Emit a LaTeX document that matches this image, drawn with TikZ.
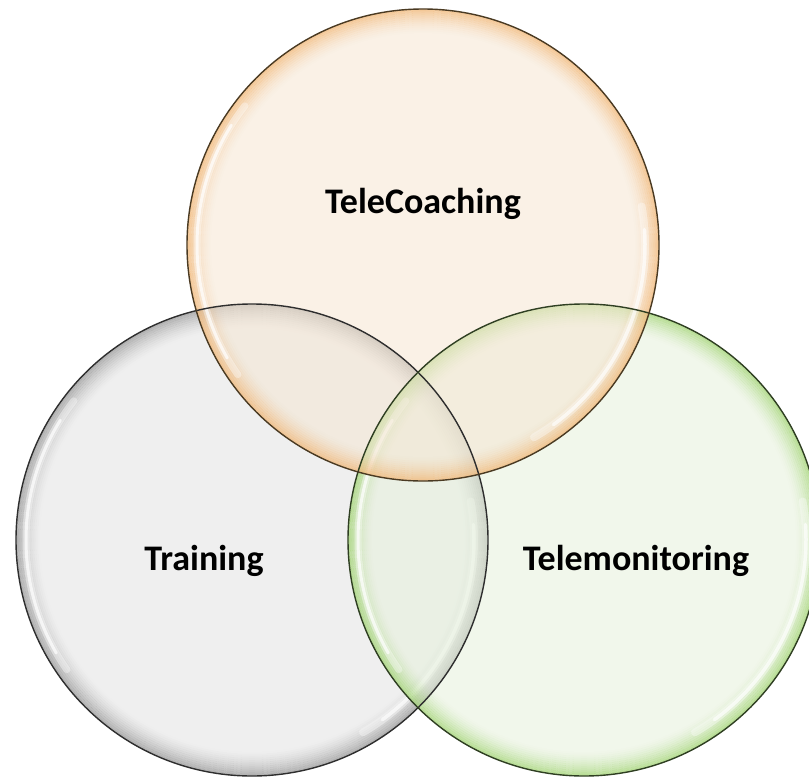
\documentclass[tikz,border=0pt]{standalone}
\usepackage{fontspec}
\setmainfont{Carlito}

\definecolor{orangebase}{HTML}{F6E6D2}
\definecolor{orangerim}{HTML}{EFA452}
\definecolor{orangeline}{HTML}{4A3A22}
\definecolor{graybase}{HTML}{E2E2E2}
\definecolor{grayrim}{HTML}{7A7A7A}
\definecolor{grayline}{HTML}{2E2E2E}
\definecolor{greenbase}{HTML}{E6F2DC}
\definecolor{greenrim}{HTML}{86C84A}
\definecolor{greenline}{HTML}{2F3F22}

\tikzset{
  label/.style={font=\bfseries\fontsize{36}{40}\selectfont, text=black, inner sep=0pt, anchor=base},
  outline/.style={line width=1.4},
  glint/.style={white, line cap=round},
}

% #1 centre, #2 base tint, #3 rim colour
\newcommand\vennbubble[3]{%
  \fill[#2, fill opacity=0.55] (#1) circle[radius=236];
  % coloured rim fading towards the inside
  \foreach \k in {0,...,11}{
    \pgfmathsetmacro\rr{235-2*\k}
    \pgfmathsetmacro\op{0.5*(1-\k/12)^1.6}
    \draw[#3, line width=2.05, opacity=\op] (#1) circle[radius=\rr];
  }
  % soft glassy highlights just inside the edge
  \draw[glint, line width=7, opacity=0.35]
    ([shift={(145:226)}]#1) arc[start angle=145, end angle=218, radius=226];
  \draw[glint, line width=3, opacity=0.7]
    ([shift={(150:226)}]#1) arc[start angle=150, end angle=212, radius=226];
  \draw[glint, line width=8, opacity=0.35]
    ([shift={(-10:222)}]#1) arc[start angle=-10, end angle=60, radius=222];
  \draw[glint, line width=3.5, opacity=0.65]
    ([shift={(-4:222)}]#1) arc[start angle=-4, end angle=54, radius=222];
}

\begin{document}
\begin{tikzpicture}[x=1pt, y=-1pt]
  \useasboundingbox (0,0) rectangle (809,777);
  \fill[white] (0,0) rectangle (809,777);

  \coordinate (ctrain) at (252,540);
  \coordinate (cmon)   at (584,540);
  \coordinate (ccoach) at (423,245);

  \begin{scope}
    \clip (0,0) rectangle (809,777);
    \vennbubble{ctrain}{graybase}{grayrim}
    \vennbubble{cmon}{greenbase}{greenrim}
    \vennbubble{ccoach}{orangebase}{orangerim}
    \draw[grayline, outline]   (ctrain) circle[radius=236];
    \draw[greenline, outline]  (cmon)   circle[radius=236];
    \draw[orangeline, outline] (ccoach) circle[radius=236];
  \end{scope}

  \node[label] (coach) at (423,213) {TeleCoaching};
  \node[label] (train) at (204,570) {Training};
  \node[label] (mon)   at (636,570) {Telemonitoring};
\end{tikzpicture}
\end{document}
